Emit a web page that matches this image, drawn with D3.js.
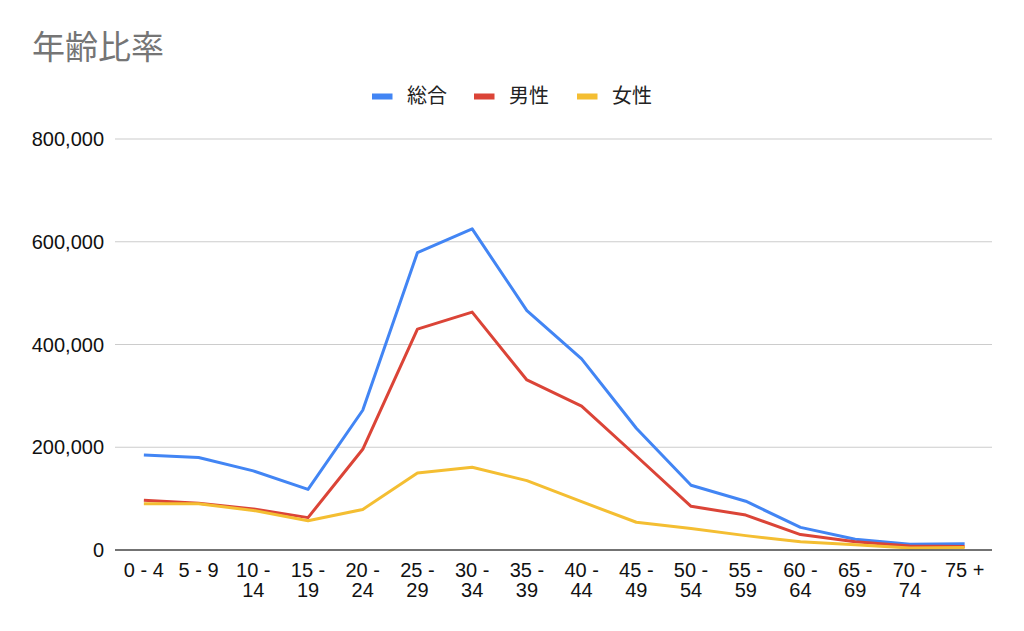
<!DOCTYPE html>
<html>
<head>
<meta charset="utf-8">
<script src="https://cdn.jsdelivr.net/npm/d3@7"></script>
<style>
  html, body { margin: 0; padding: 0; background: #fff; }
  svg { display: block; font-family: "Liberation Sans", Arial, "Noto Sans CJK JP", sans-serif; }
</style>
</head>
<body>
<svg id="chart" width="1024" height="631"></svg>
<script>
const categories = ["0 - 4","5 - 9","10 - 14","15 - 19","20 - 24","25 - 29","30 - 34","35 - 39","40 - 44","45 - 49","50 - 54","55 - 59","60 - 64","65 - 69","70 - 74","75 +"];
const totalValues = [185000,180000,154000,118000,272000,579000,625000,466000,372000,237000,126000,95000,44000,21000,11000,12000];
const maleValues  = [97000,91000,80000,63000,196000,430000,463000,331000,280000,183000,85000,68000,30000,16000,8000,7000];
const femaleValues= [90000,90000,77000,57000,79000,150000,161000,135000,94000,54000,42000,28000,16000,10000,4000,5000];
const seriesNames = ["総合","男性","女性"];
const seriesColors = ["#4285F4","#DB4437","#F4BE32"];
const yTicks = [0,200000,400000,600000,800000];

(function () {
const svg = d3.select("#chart");
const pLeft = 115, pRight = 992, pTop = 139, pBottom = 550;

const x = d3.scalePoint().domain(categories).range([pLeft + 1.5, pRight]).padding(0.5);
const y = d3.scaleLinear().domain([0, 800000]).range([pBottom, pTop]);

// title
svg.append("text").attr("x", 32).attr("y", 59)
  .attr("font-family", "'Noto Sans CJK JP', sans-serif")
  .attr("font-size", 33).attr("fill", "#757575").text("年齢比率");

// gridlines
svg.append("g").selectAll("line").data(yTicks.filter(d => d > 0)).join("line")
  .attr("x1", pLeft).attr("x2", pRight)
  .attr("y1", d => y(d)).attr("y2", d => y(d))
  .attr("stroke", "#cccccc").attr("stroke-width", 1.2);

// y axis labels
const fmt = d3.format(",");
svg.append("g").selectAll("text").data(yTicks).join("text")
  .attr("x", 104).attr("y", d => y(d) + 7)
  .attr("text-anchor", "end").attr("font-size", 20).attr("fill", "#111")
  .text(d => fmt(d));

// lines
const series = [totalValues, maleValues, femaleValues];
const line = d3.line().x((d, i) => x(categories[i])).y(d => y(d));
series.forEach((vals, k) => {
  svg.append("path").datum(vals)
    .attr("d", line).attr("fill", "none")
    .attr("stroke", seriesColors[k]).attr("stroke-width", 3)
    .attr("stroke-linejoin", "round");
});

// baseline
svg.append("line").attr("x1", pLeft).attr("x2", pRight)
  .attr("y1", y(0)).attr("y2", y(0))
  .attr("stroke", "#444").attr("stroke-width", 1.6);

// x labels
const xg = svg.append("g");
categories.forEach(c => {
  const parts = c.match(/^(\d{2} -)\s(\d+)$/);
  const t = xg.append("text").attr("text-anchor", "middle")
    .attr("font-size", 20).attr("fill", "#111");
  if (parts) {
    t.append("tspan").attr("x", x(c)).attr("y", 577).text(parts[1]);
    t.append("tspan").attr("x", x(c)).attr("y", 597).text(parts[2]);
  } else {
    t.append("tspan").attr("x", x(c)).attr("y", 577).text(c);
  }
});

// legend
const legendX = [372, 474, 577];
seriesNames.forEach((n, k) => {
  svg.append("rect").attr("x", legendX[k]).attr("y", 93.5).attr("width", 20.5).attr("height", 6)
    .attr("fill", seriesColors[k]);
  svg.append("text").attr("x", legendX[k] + 35).attr("y", 103)
    .attr("font-family", "'Noto Sans CJK JP', sans-serif")
    .attr("font-size", 20).attr("fill", "#222").text(n);
});
})();
</script>
</body>
</html>
